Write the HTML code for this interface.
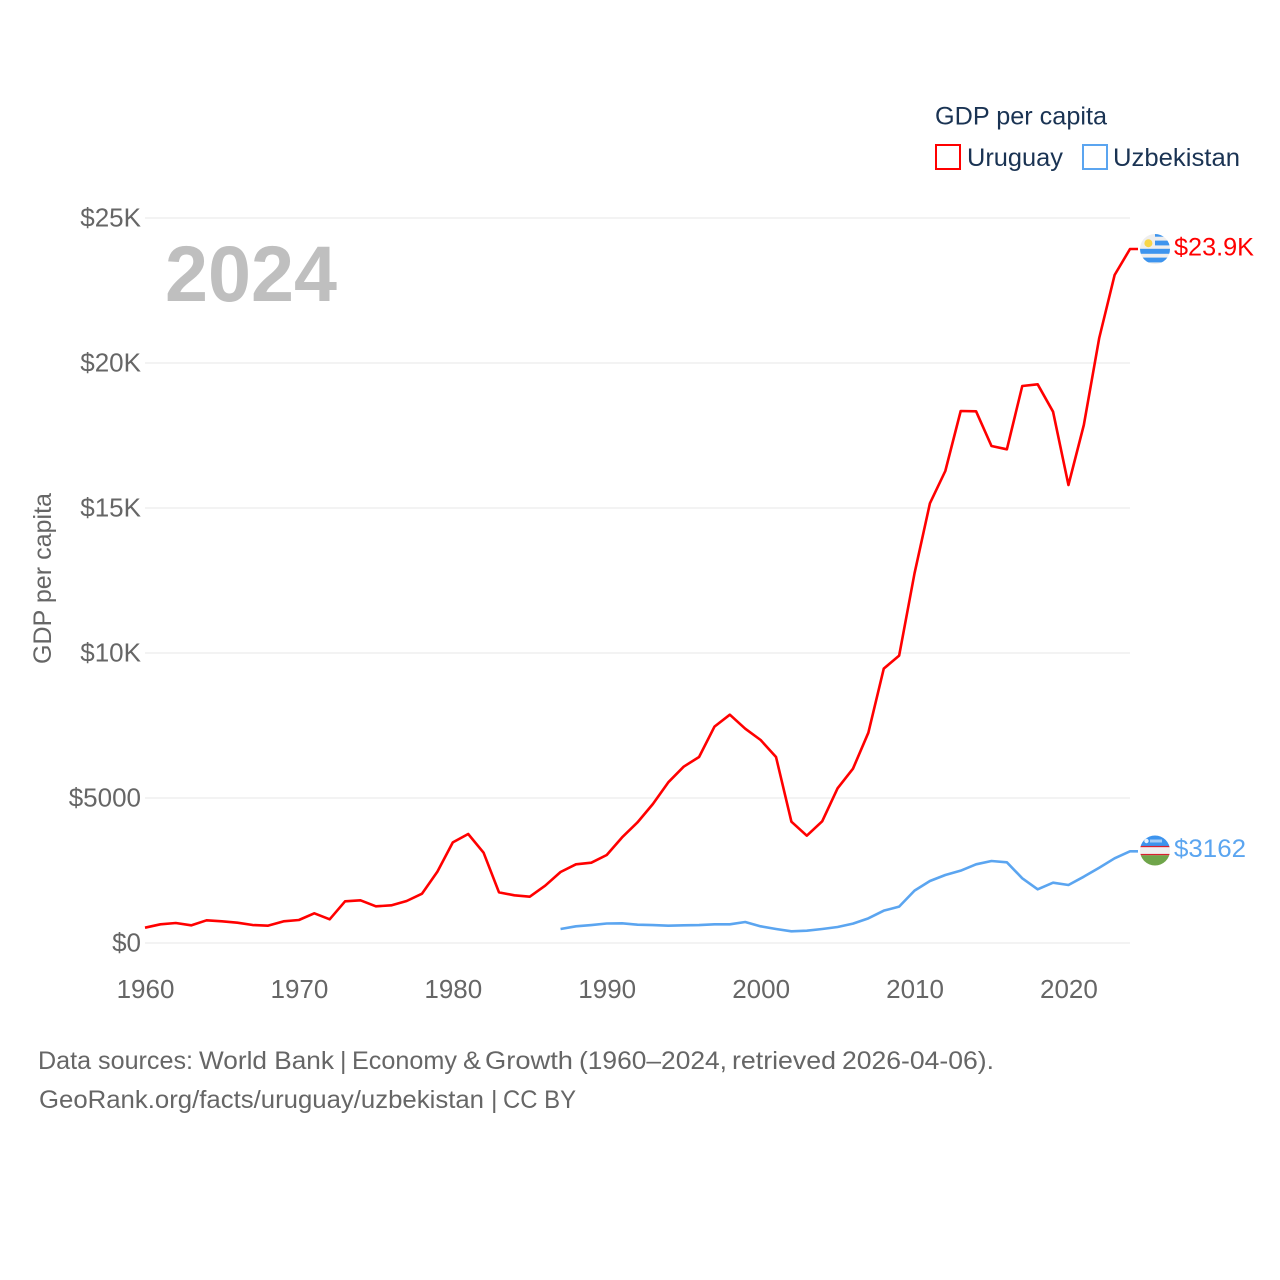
<!DOCTYPE html>
<html lang="en">
<head>
<meta charset="utf-8">
<title>GDP per capita: Uruguay and Uzbekistan</title>
<style>
html,body{margin:0;padding:0;background:#fff;width:1280px;height:1280px;overflow:hidden}
svg{display:block;font-family:"Liberation Sans",sans-serif}
</style>
</head>
<body>
<svg id="chart" width="1280" height="1280" viewBox="0 0 1280 1280" xmlns="http://www.w3.org/2000/svg">
  <defs>
    <clipPath id="flag-clip-uy"><circle id="clip-uy" cx="1155" cy="249" r="15"/></clipPath>
    <clipPath id="flag-clip-uz"><circle id="clip-uz" cx="1155" cy="851" r="15"/></clipPath>
  </defs>
  <g id="grid"></g>
  <g id="yticks"></g>
  <g id="xticks"></g>
  <text x="165" y="301" font-size="79" font-weight="700" fill="#bfbfbf" textLength="172" lengthAdjust="spacingAndGlyphs">2024</text>
  <text transform="translate(51,578.5) rotate(-90)" text-anchor="middle" font-size="25" fill="#666" textLength="171" lengthAdjust="spacingAndGlyphs">GDP per capita</text>
  <g id="series"></g>
  <g id="end-markers"></g>
  <g>
    <text x="935" y="124.5" font-size="25" fill="#1a3353" textLength="172" lengthAdjust="spacingAndGlyphs">GDP per capita</text>
    <rect x="936" y="145" width="24" height="24" fill="#fff" stroke="#ff0000" stroke-width="2"/>
    <text x="967" y="166" font-size="25" fill="#1a3353" textLength="96" lengthAdjust="spacingAndGlyphs">Uruguay</text>
    <rect x="1083" y="145" width="24" height="24" fill="#fff" stroke="#5ba5f0" stroke-width="2"/>
    <text x="1113" y="166" font-size="25" fill="#1a3353" textLength="127" lengthAdjust="spacingAndGlyphs">Uzbekistan</text>
  </g>
  <g font-size="25" fill="#666">
    <text y="1069">
      <tspan x="38" textLength="155" lengthAdjust="spacingAndGlyphs">Data sources:</tspan>
      <tspan x="199" textLength="135" lengthAdjust="spacingAndGlyphs">World Bank</tspan>
      <tspan x="340">|</tspan>
      <tspan x="352" textLength="105" lengthAdjust="spacingAndGlyphs">Economy</tspan>
      <tspan x="463" textLength="18" lengthAdjust="spacingAndGlyphs">&amp;</tspan>
      <tspan x="485" textLength="88" lengthAdjust="spacingAndGlyphs">Growth</tspan>
      <tspan x="579" textLength="148" lengthAdjust="spacingAndGlyphs">(1960–2024,</tspan>
      <tspan x="732" textLength="104" lengthAdjust="spacingAndGlyphs">retrieved</tspan>
      <tspan x="842" textLength="152" lengthAdjust="spacingAndGlyphs">2026-04-06).</tspan>
    </text>
    <text y="1108">
      <tspan x="39" textLength="445" lengthAdjust="spacingAndGlyphs">GeoRank.org/facts/uruguay/uzbekistan</tspan>
      <tspan x="491">|</tspan>
      <tspan x="503" textLength="73" lengthAdjust="spacingAndGlyphs">CC BY</tspan>
    </text>
  </g>
</svg>
<script>
const uruguayStartYear = 1960;
const uzbekistanStartYear = 1987;
const uruguayValues = [528,644,690,609,782,747,701,620,598,747,793,1023,816,1437,1471,1264,1299,1448,1701,2460,3471,3759,3115,1747,1644,1598,1977,2448,2713,2770,3034,3643,4160,4793,5540,6080,6414,7460,7873,7391,7000,6414,4184,3701,4195,5333,6011,7252,9460,9908,12748,15161,16276,18345,18333,17138,17023,19207,19265,18321,15793,17862,20862,23034,23931];
const uzbekistanValues = [483,576,620,672,679,631,620,598,609,620,644,644,724,575,483,402,425,483,552,667,850,1115,1253,1805,2138,2345,2494,2713,2828,2782,2230,1851,2080,2000,2287,2597,2920,3162];
const yTickValues = [0,5000,10000,15000,20000,25000];
const yTickLabels = ["$0","$5000","$10K","$15K","$20K","$25K"];
const xTickValues = [1960,1970,1980,1990,2000,2010,2020];
const xTickLabels = ["1960","1970","1980","1990","2000","2010","2020"];
const uruguayEndLabel = "$23.9K";
const uzbekistanEndLabel = "$3162";

const NS = "http://www.w3.org/2000/svg";
const plotLeft = 145, plotRight = 1130, plotBottom = 943, plotTop = 218;
const xMin = 1960, xMax = 2024, yMin = 0, yMax = 25000;
function xScale(year) { return plotLeft + (year - xMin) / (xMax - xMin) * (plotRight - plotLeft); }
function yScale(value) { return plotBottom - (value - yMin) / (yMax - yMin) * (plotBottom - plotTop); }
function make(tag, attrs, parent, text) {
  const el = document.createElementNS(NS, tag);
  for (const k in attrs) el.setAttribute(k, attrs[k]);
  if (text !== undefined) el.textContent = text;
  parent.appendChild(el);
  return el;
}

const grid = document.getElementById("grid");
const yticks = document.getElementById("yticks");
const xticks = document.getElementById("xticks");
yTickValues.forEach(function (v, i) {
  const line = make("line", {x1: plotLeft, x2: plotRight, y1: yScale(v), y2: yScale(v), stroke: "#ececec", "stroke-width": 1.3}, grid);
  
  
  const label = make("text", {x: 141, y: yScale(v) + 8.5, "text-anchor": "end", "font-size": 26, fill: "#666"}, yticks, yTickLabels[i]);
  
  
});
xTickValues.forEach(function (v, i) {
  const label = make("text", {x: xScale(v) + 0.5, y: 998, "text-anchor": "middle", "font-size": 26, fill: "#666"}, xticks, xTickLabels[i]);
  
  
});

function linePoints(values, startYear) {
  const pts = values.map(function (v, i) { return xScale(startYear + i).toFixed(2) + "," + yScale(v).toFixed(2); });
  const last = values[values.length - 1];
  pts.push((xScale(startYear + values.length - 1) + 8).toFixed(2) + "," + yScale(last).toFixed(2));
  return pts.join(" ");
}
const seriesGroup = document.getElementById("series");
const uzLine = make("polyline", {points: linePoints(uzbekistanValues, uzbekistanStartYear), fill: "none", stroke: "#5ba5f0", "stroke-width": 2.6, "stroke-linejoin": "round"}, seriesGroup);


const uyLine = make("polyline", {points: linePoints(uruguayValues, uruguayStartYear), fill: "none", stroke: "#ff0000", "stroke-width": 2.6, "stroke-linejoin": "round"}, seriesGroup);



const markers = document.getElementById("end-markers");
const uyY = yScale(uruguayValues[uruguayValues.length - 1]);
const uzY = yScale(uzbekistanValues[uzbekistanValues.length - 1]) - 0.8;
document.getElementById("clip-uy").setAttribute("cy", uyY);
document.getElementById("clip-uz").setAttribute("cy", uzY);

const uyFlag = make("g", {"clip-path": "url(#flag-clip-uy)"}, markers);


make("rect", {x: 1140, y: uyY - 15, width: 30, height: 30, fill: "#eeeeee"}, uyFlag);
make("rect", {x: 1155, y: uyY - 15.5, width: 15, height: 3.2, fill: "#3d94ee"}, uyFlag);
make("rect", {x: 1155, y: uyY - 8.4, width: 15, height: 4.8, fill: "#3d94ee"}, uyFlag);
make("rect", {x: 1140, y: uyY - 0.2, width: 30, height: 5, fill: "#3d94ee"}, uyFlag);
make("rect", {x: 1140, y: uyY + 8.6, width: 30, height: 4.8, fill: "#3d94ee"}, uyFlag);
make("circle", {cx: 1148.4, cy: uyY - 5.8, r: 4, fill: "#f8d648"}, uyFlag);

const uzFlag = make("g", {"clip-path": "url(#flag-clip-uz)"}, markers);


make("rect", {x: 1140, y: uzY - 15.5, width: 30, height: 11, fill: "#3d94ee"}, uzFlag);
make("rect", {x: 1140, y: uzY - 4.6, width: 30, height: 1.4, fill: "#d8202f"}, uzFlag);
make("rect", {x: 1140, y: uzY - 3.2, width: 30, height: 6.6, fill: "#f0f0f0"}, uzFlag);
make("rect", {x: 1140, y: uzY + 3.4, width: 30, height: 1.4, fill: "#d8202f"}, uzFlag);
make("rect", {x: 1140, y: uzY + 4.8, width: 30, height: 11, fill: "#6fa54a"}, uzFlag);
make("circle", {cx: 1146.5, cy: uzY - 9.5, r: 2.2, fill: "#e8f2fd"}, uzFlag);
make("rect", {x: 1150, y: uzY - 11, width: 12, height: 3, fill: "#a5cdf6"}, uzFlag);

const uyLabel = make("text", {x: 1174, y: uyY + 6.5, "font-size": 25, fill: "#ff0000", textLength: 80, lengthAdjust: "spacingAndGlyphs"}, markers, uruguayEndLabel);


const uzLabel = make("text", {x: 1174, y: uzY + 6.3, "font-size": 25, fill: "#5ba5f0", textLength: 72, lengthAdjust: "spacingAndGlyphs"}, markers, uzbekistanEndLabel);


</script>
</body>
</html>
